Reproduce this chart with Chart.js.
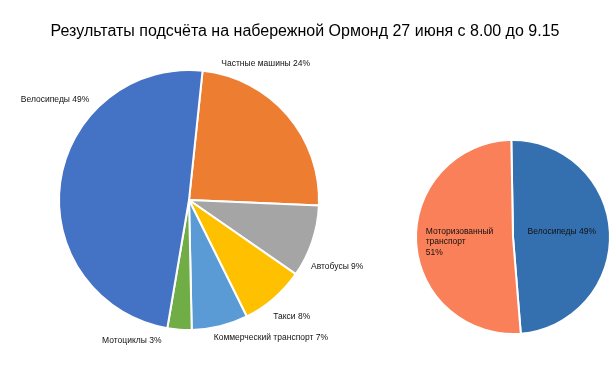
<!DOCTYPE html>
<html>
<head>
<meta charset="utf-8">
<script src="https://cdn.jsdelivr.net/npm/chart.js@4"></script>
<style>
  body { margin: 0; background: #fff; }
  #wrap { position: relative; width: 616px; height: 371px; }
  canvas { position: absolute; left: 0; top: 0; }
</style>
</head>
<body>
<div id="wrap">
  <canvas id="leftChart" width="616" height="371"></canvas>
  <canvas id="rightChart" width="616" height="371"></canvas>
</div>
<script>
const titleText = "Результаты подсчёта на набережной Ормонд 27 июня с 8.00 до 9.15";

// left pie: all modes
const modeLabels = ["Частные машины", "Автобусы", "Такси", "Коммерческий транспорт", "Мотоциклы", "Велосипеды"];
const modeShares = [24, 9, 8, 7, 3, 49];
const modeColors = ["#ED7D31", "#A5A5A5", "#FFC000", "#5B9BD5", "#70AD47", "#4472C4"];

// right pie: bikes vs motorised
const splitLabels = ["Велосипеды", "Моторизованный транспорт"];
const splitShares = [49, 51];
const splitColors = ["#3470B0", "#F98059"];

Chart.defaults.font.family = "'Liberation Sans', Arial, sans-serif";
Chart.defaults.color = "#111";

// the built-in title is squeezed into the padded area, so draw it across the canvas
const pageTitle = {
  id: "pageTitle",
  afterDraw(chart, args, opts) {
    const ctx = chart.ctx;
    ctx.save();
    ctx.font = "16px 'Liberation Sans', Arial, sans-serif";
    ctx.fillStyle = "#000";
    ctx.textAlign = "center";
    ctx.textBaseline = "middle";
    ctx.fillText(opts.text, chart.width / 2 - 3, 32);
    ctx.restore();
  }
};

// draws "name xx%" next to each slice; offsets are in units of the pie radius
const sliceLabels = {
  id: "sliceLabels",
  afterDatasetsDraw(chart, args, opts) {
    const ctx = chart.ctx;
    const meta = chart.getDatasetMeta(0);
    const values = chart.data.datasets[0].data;
    ctx.save();
    ctx.font = "8.5px 'Liberation Sans', Arial, sans-serif";
    ctx.fillStyle = "#111";
    ctx.textBaseline = "middle";
    meta.data.forEach((arc, i) => {
      const p = opts.pos[i];
      const r = arc.outerRadius;
      const x = arc.x + p[0] * r;
      const y = arc.y + p[1] * r;
      ctx.textAlign = opts.align;
      const name = chart.data.labels[i];
      let lines = [name + " " + values[i] + "%"];
      if (p[2]) lines = name.split(" ").concat([values[i] + "%"]);
      lines.forEach((t, k) => ctx.fillText(t, x, y + k * 10.5));
    });
    ctx.restore();
  }
};

new Chart(document.getElementById("leftChart"), {
  type: "pie",
  data: {
    labels: modeLabels,
    datasets: [{
      data: modeShares,
      backgroundColor: modeColors,
      borderColor: "#fff",
      borderWidth: 2
    }]
  },
  options: {
    responsive: false,
    animation: false,
    rotation: 6,
    layout: { padding: { left: 58, right: 296, top: 69, bottom: 40 } },
    plugins: {
      legend: { display: false },
      tooltip: { enabled: false },
      pageTitle: { text: titleText },
      sliceLabels: {
        align: "center",
        pos: [[0.59, -1.05], [1.14, 0.51], [0.79, 0.90], [0.63, 1.06], [-0.44, 1.08], [-1.03, -0.77]]
      }
    }
  },
  plugins: [pageTitle, sliceLabels]
});

new Chart(document.getElementById("rightChart"), {
  type: "pie",
  data: {
    labels: splitLabels,
    datasets: [{
      data: splitShares,
      backgroundColor: splitColors,
      borderColor: "#fff",
      borderWidth: 2
    }]
  },
  options: {
    responsive: false,
    animation: false,
    rotation: -1,
    layout: { padding: { left: 415, right: 5, top: 139, bottom: 36 } },
    plugins: {
      legend: { display: false },
      tooltip: { enabled: false },
      sliceLabels: {
        align: "left",
        pos: [[0.15, -0.06], [-0.90, -0.06, true]]
      }
    }
  },
  plugins: [sliceLabels]
});
</script>
</body>
</html>
